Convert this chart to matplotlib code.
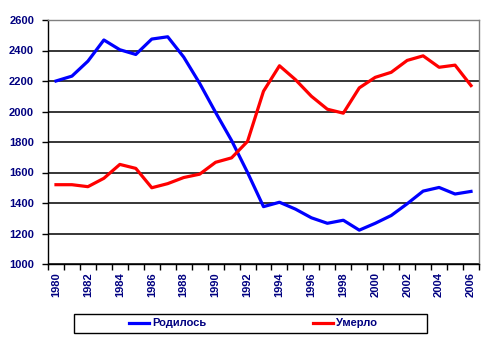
import matplotlib
matplotlib.use("Agg")
import matplotlib.pyplot as plt
from matplotlib.ticker import MultipleLocator, FixedLocator
from matplotlib.patches import Rectangle

years = list(range(1980, 2007))
born = [2200, 2232, 2330, 2469, 2405, 2374, 2475, 2490, 2357, 2185,
        1994, 1810, 1600, 1376, 1405, 1360, 1303, 1267, 1287, 1222,
        1267, 1318, 1395, 1478, 1502, 1459, 1476]
died = [1520, 1520, 1507, 1562, 1653, 1627, 1500, 1527, 1567, 1589,
        1667, 1696, 1804, 2133, 2300, 2209, 2100, 2015, 1989, 2155,
        2224, 2257, 2335, 2365, 2290, 2304, 2170]
labels = ["Родилось", "Умерло"]

plt.rcParams['font.family'] = ['Liberation Sans', 'DejaVu Sans']
navy = "#000080"
W, H = 493, 350

fig = plt.figure(figsize=(W / 100, H / 100), dpi=100)
ax = fig.add_axes([48 / W, 1 - 264 / H, 431 / W, 244 / H])

ax.plot(years, born, color="#0000ff", lw=2.3, label=labels[0], solid_joinstyle="round")
ax.plot(years, died, color="#ff0000", lw=2.3, label=labels[1], solid_joinstyle="round")

ax.set_xlim(1979.5, 2006.5)
ax.set_ylim(1000, 2600)
ax.yaxis.set_major_locator(MultipleLocator(200))
ax.grid(axis="y", color="black", lw=1.1)
ax.set_axisbelow(True)

ax.xaxis.set_major_locator(FixedLocator(years[::2]))
ax.xaxis.set_minor_locator(FixedLocator([y + 0.5 for y in range(1979, 2007)]))
ax.tick_params(axis="x", which="major", length=0, pad=6)
ax.tick_params(axis="x", which="minor", length=4, width=1, color="black")
ax.tick_params(axis="y", length=4, width=1, color="black", pad=6)

for lab in ax.get_xticklabels():
    lab.set_rotation(90)
for lab in ax.get_xticklabels() + ax.get_yticklabels():
    lab.set_fontsize(8)
    lab.set_fontweight("bold")
    lab.set_color(navy)

for side in ("top", "right"):
    ax.spines[side].set_color("#808080")
    ax.spines[side].set_linewidth(1)
for side in ("left", "bottom"):
    ax.spines[side].set_color("black")
    ax.spines[side].set_linewidth(1)

# legend box
fig.patches.append(Rectangle((74 / W, 1 - 333 / H), 353 / W, 19 / H,
                             transform=fig.transFigure, fill=False,
                             edgecolor="black", lw=1))
leg = fig.legend(loc="center", ncol=2,
                 bbox_to_anchor=(253 / W, 1 - 323.5 / H),
                 frameon=False, handlelength=1.8, handletextpad=0.3,
                 columnspacing=9.6, borderpad=0, borderaxespad=0,
                 prop={"size": 8, "weight": "bold"})
for t in leg.get_texts():
    t.set_color(navy)

fig.savefig("out.png", dpi=100)
